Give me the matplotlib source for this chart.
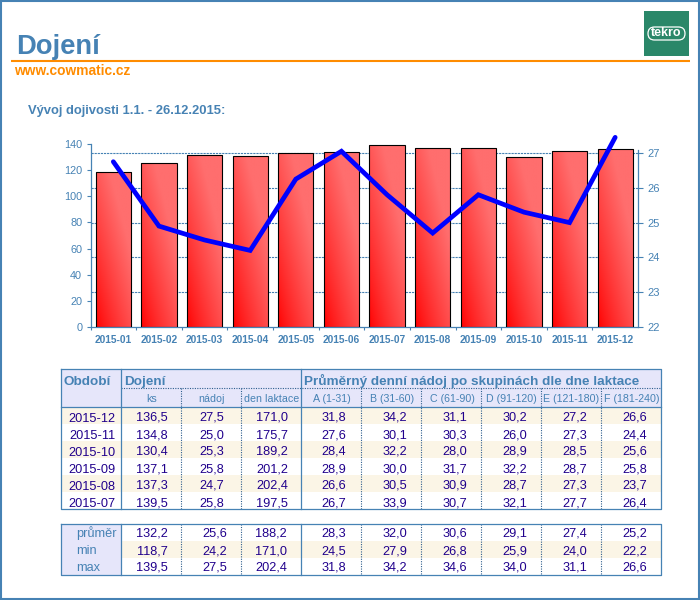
import numpy as np
import matplotlib
matplotlib.use("Agg")
import matplotlib.pyplot as plt
from matplotlib.patches import Rectangle, FancyBboxPatch
from matplotlib.transforms import blended_transform_factory

plt.rcParams['font.family'] = ['Liberation Sans', 'DejaVu Sans']

months = ["2015-01", "2015-02", "2015-03", "2015-04", "2015-05", "2015-06",
          "2015-07", "2015-08", "2015-09", "2015-10", "2015-11", "2015-12"]
cows = [118.9, 125.3, 131.4, 130.6, 132.9, 133.7, 139.6, 137.3, 137.1, 130.4, 134.8, 136.5]
milk = [26.75, 24.9, 24.5, 24.2, 26.25, 27.05, 25.8, 24.7, 25.8, 25.3, 25.0, 27.45]

head_cols = ["ks", "nádoj", "den laktace", "A (1-31)", "B (31-60)", "C (61-90)",
             "D (91-120)", "E (121-180)", "F (181-240)"]
periods = ["2015-12", "2015-11", "2015-10", "2015-09", "2015-08", "2015-07"]
rows = [
    ["136,5", "27,5", "171,0", "31,8", "34,2", "31,1", "30,2", "27,2", "26,6"],
    ["134,8", "25,0", "175,7", "27,6", "30,1", "30,3", "26,0", "27,3", "24,4"],
    ["130,4", "25,3", "189,2", "28,4", "32,2", "28,0", "28,9", "28,5", "25,6"],
    ["137,1", "25,8", "201,2", "28,9", "30,0", "31,7", "32,2", "28,7", "25,8"],
    ["137,3", "24,7", "202,4", "26,6", "30,5", "30,9", "28,7", "27,3", "23,7"],
    ["139,5", "25,8", "197,5", "26,7", "33,9", "30,7", "32,1", "27,7", "26,4"],
]
stat_names = ["průměr", "min", "max"]
stats = [
    ["132,2", "25,6", "188,2", "28,3", "32,0", "30,6", "29,1", "27,4", "25,2"],
    ["118,7", "24,2", "171,0", "24,5", "27,9", "26,8", "25,9", "24,0", "22,2"],
    ["139,5", "27,5", "202,4", "31,8", "34,2", "34,6", "34,0", "31,1", "26,6"],
]

BLUE = "#4682B4"
ORANGE = "#FF8C00"
LAV = "#E6E6FA"
CREAM = "#FBF5E6"
NAVY = "#20008C"

fig = plt.figure(figsize=(7, 6), dpi=100, facecolor="white")

# page layer in pixel coordinates
pg = fig.add_axes([0, 0, 1, 1])
pg.set_xlim(0, 700)
pg.set_ylim(600, 0)
pg.axis("off")

pg.add_patch(Rectangle((1, 1), 698, 598, fc="none", ec=BLUE, lw=1.5))
pg.text(16.5, 54, "Dojení", color=BLUE, fontsize=19.7, fontweight="bold", va="baseline", ha="left")
pg.plot([11, 690], [61, 61], color=ORANGE, lw=1.5, solid_capstyle="butt")
pg.text(14, 75, "www.cowmatic.cz", color=ORANGE, fontsize=9.9, fontweight="bold", va="baseline", ha="left")
pg.text(28, 114, "Vývoj dojivosti 1.1. - 26.12.2015:", color=BLUE, fontsize=9.4, fontweight="bold",
        va="baseline", ha="left")

# logo
pg.add_patch(Rectangle((644, 11), 45, 45, fc="#2A8769", ec="none"))
pg.add_patch(FancyBboxPatch((648, 27), 37, 13, boxstyle="round,pad=0,rounding_size=6.5",
                            fc="none", ec="white", lw=0.9))
pg.text(666.5, 33.5, "tekro", color="white", fontsize=9, fontweight="bold",
        ha="center", va="center")

# chart
ax = fig.add_axes([90.5 / 700, (600 - 327) / 600, 547.5 / 700, 183 / 600])
ax2 = ax.twinx()
x = np.arange(len(months))
bars = ax.bar(x, cows, width=0.77, facecolor="none", edgecolor="black", linewidth=0.8, zorder=3)

uu, vv = np.meshgrid(np.linspace(0, 1, 40), np.linspace(1, 0, 120))
shade = np.clip(0.65 * uu + 0.75 * vv, 0, 1) ** 0.8 * 110 / 255
grad = np.dstack([np.ones_like(shade), shade, shade])
for b in bars:
    im = ax.imshow(grad, extent=[b.get_x(), b.get_x() + b.get_width(), 0, b.get_height()],
                   aspect="auto", zorder=2)
    im.set_clip_path(b)

ax.set_xlim(-0.5, 11.5)
ax.set_ylim(0, 140)
ax2.set_ylim(22, 22 + 183 / 34.8)

trans = blended_transform_factory(ax.transAxes, ax2.transData)
ax.hlines([23, 24, 25, 26, 27], 0, 1, transform=trans, colors=BLUE, linestyles=(0, (2, 0.8)), lw=0.8, zorder=1)

ax2.plot(x, milk, color="#0000FF", lw=3.4, solid_capstyle="round", solid_joinstyle="miter", clip_on=False, zorder=5)

ax.set_yticks(range(0, 141, 20))
ax.set_xticks(x - 0.5, minor=False)
ax.set_xticklabels([""] * len(months))
ax.set_xticks(x, labels=months, minor=True)
ax.tick_params(axis="x", which="minor", length=0, pad=6, labelsize=7.4, labelcolor=BLUE)
for t in ax.get_xticklabels(minor=True):
    t.set_fontweight("bold")
ax.tick_params(axis="x", which="major", length=2.5, color=BLUE, width=0.8)
ax.tick_params(axis="y", length=3, color=BLUE, width=0.8, labelsize=7.8, labelcolor=BLUE, pad=3)
ax2.set_yticks(range(22, 28))
ax2.tick_params(axis="y", length=3.5, color=BLUE, width=0.8, labelsize=8, labelcolor=BLUE, pad=3)
for a in (ax, ax2):
    a.spines["top"].set_visible(False)
    for s in ("left", "right", "bottom"):
        a.spines[s].set_color(BLUE)
        a.spines[s].set_linewidth(0.9)
ax2.spines["left"].set_visible(False)
ax2.spines["bottom"].set_visible(False)
ax.spines["right"].set_visible(False)
ax2.spines["right"].set_bounds(22, 27.1)

# tables
col_x = [61 + 60 * i for i in range(11)]
text_x = [152, 211.5, 272, 334, 395, 455, 515, 574.5, 634.5]
stat_x = [152, 214.5, 271, 334, 395, 455, 515, 574.5, 634.5]
head_x = [151.5, 212, 271.5, 331.5, 392, 452, 511.5, 571.5, 631.5]
ROW_H = 17


def dotted_v(x0, y0, y1):
    pg.plot([x0, x0], [y0, y1], color="#2F5F8F", lw=0.8, linestyle=(0, (1, 1.2)), zorder=4)


def solid(xs, ys):
    pg.plot(xs, ys, color=BLUE, lw=0.9, zorder=5, solid_capstyle="projecting")


def body(top, base, data, xs, is_cream):
    for i, row in enumerate(data):
        if is_cream(i):
            pg.add_patch(Rectangle((col_x[0], top + i * ROW_H), 600, ROW_H, fc=CREAM, ec="none", zorder=1))
        for xt, val in zip(xs, row):
            pg.text(xt, base + i * ROW_H, val, color=NAVY, fontsize=9.2,
                    ha="center", va="baseline", zorder=6)


pg.add_patch(Rectangle((61, 369), 600, 38, fc=LAV, ec="none", zorder=1))
for tx, label in [(64, "Období"), (124, "Dojení"),
                  (304, "Průměrný denní nádoj po skupinách dle dne laktace")]:
    pg.text(tx, 385, label, color=BLUE, fontsize=9.7, fontweight="bold", va="baseline", ha="left", zorder=6)
for hx, name in zip(head_x, head_cols):
    pg.text(hx, 402, name, color=BLUE, fontsize=7.7, ha="center", va="baseline", zorder=6)
pg.plot([121, 661], [388, 388], color="#2F5F8F", lw=0.8, linestyle=(0, (1, 1.2)), zorder=4)

body(407, 421, rows, text_x, lambda k: k % 2 == 0)
# text without a comma lands a pixel higher, hence the extra offset
for i, p in enumerate(periods):
    pg.text(92, 422 + i * ROW_H, p, color=NAVY, fontsize=9.2, ha="center", va="baseline", zorder=6)

body(524, 537, stats, stat_x, lambda k: k == 1)
pg.add_patch(Rectangle((61, 524), 60, 51, fc=LAV, ec="none", zorder=2))
for i, p in enumerate(stat_names):
    pg.text(76, 537 + i * ROW_H, p, color=BLUE, fontsize=9.2, ha="left", va="baseline", zorder=6)

for cx in [181, 241, 361, 421, 481, 541, 601]:
    dotted_v(cx, 388, 509)
    dotted_v(cx, 524, 575)

solid([61, 661, 661, 61, 61], [369, 369, 509, 509, 369])
solid([61, 661], [407, 407])
solid([121, 121], [369, 509])
solid([301, 301], [369, 509])
solid([61, 661, 661, 61, 61], [524, 524, 575, 575, 524])
solid([121, 121], [524, 575])
solid([301, 301], [524, 575])

fig.savefig("out.png", dpi=100)
